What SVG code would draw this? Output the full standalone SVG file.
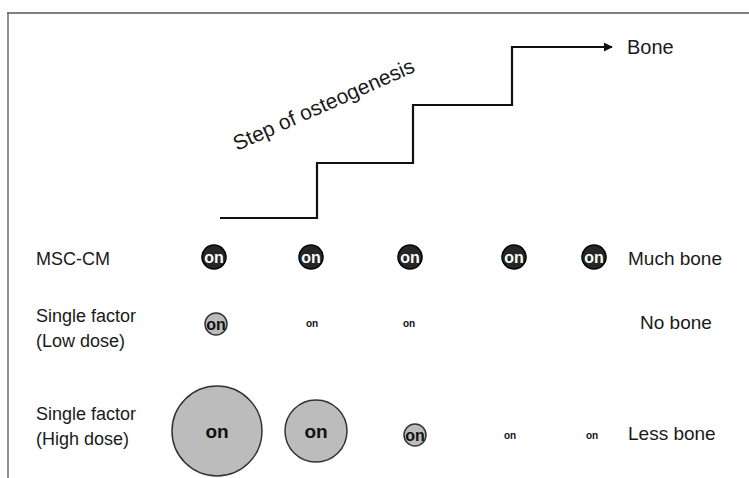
<svg xmlns="http://www.w3.org/2000/svg" width="749" height="478" viewBox="0 0 749 478">
  <style>
    .lbl { font-family: "Liberation Sans", Arial, sans-serif; font-size: 18px; fill: #1a1a1a; }
    .big { font-size: 20px; }
    .res { font-size: 19px; }
    .dark { fill: #262626; stroke: #000; stroke-width: 1.5; }
    .light { fill: #bcbcbc; stroke: #333; stroke-width: 1.5; }
    .onw { font-family: "Liberation Sans", Arial, sans-serif; font-weight: bold; fill: #fff; text-anchor: middle; }
    .onb { font-family: "Liberation Sans", Arial, sans-serif; font-weight: bold; fill: #111; text-anchor: middle; }
  </style>
  <defs>
    <marker id="arr" viewBox="0 0 10 10" refX="9" refY="5" markerWidth="9" markerHeight="9" markerUnits="userSpaceOnUse" orient="auto">
      <path d="M0,0 L10,5 L0,10 z" fill="#111"/>
    </marker>
  </defs>
  <rect width="749" height="478" fill="#fff"/>
  <g id="frame" stroke="#555" stroke-width="1.3" fill="none">
    <line x1="7" y1="13" x2="749" y2="13"/>
    <line x1="8" y1="13" x2="8" y2="478"/>
  </g>
  <g id="connectors">
    <path d="M220,218 H317 V163 H413 V105 H512 V47 H612" fill="none" stroke="#111" stroke-width="2.2" marker-end="url(#arr)"/>
  </g>
  <g id="step-label">
    <text class="lbl" style="font-size:21px" transform="translate(237,151) rotate(-24)">Step of osteogenesis</text>
  </g>
  <g id="bone-label"><text class="lbl big" x="627" y="54">Bone</text></g>

  <g id="row-msc">
    <text class="lbl" x="36" y="265">MSC-CM</text>
    <g id="msc1"><circle class="dark" cx="214" cy="257" r="12"/><text class="onw" x="214" y="263" font-size="16">on</text></g>
    <g id="msc2"><circle class="dark" cx="311" cy="257" r="12"/><text class="onw" x="311" y="263" font-size="16">on</text></g>
    <g id="msc3"><circle class="dark" cx="410" cy="257" r="12"/><text class="onw" x="410" y="263" font-size="16">on</text></g>
    <g id="msc4"><circle class="dark" cx="514" cy="257" r="12"/><text class="onw" x="514" y="263" font-size="16">on</text></g>
    <g id="msc5"><circle class="dark" cx="594" cy="257" r="12"/><text class="onw" x="594" y="263" font-size="16">on</text></g>
    <text class="lbl res" x="628" y="265">Much bone</text>
  </g>

  <g id="row-low">
    <text class="lbl" x="36" y="322">Single factor</text>
    <text class="lbl" x="36" y="347">(Low dose)</text>
    <g id="low1"><circle class="light" cx="216" cy="324" r="11"/><text class="onb" x="216" y="330" font-size="16">on</text></g>
    <g id="low2"><text class="onb" x="312" y="327" font-size="10">on</text></g>
    <g id="low3"><text class="onb" x="409" y="327" font-size="10">on</text></g>
    <text class="lbl res" x="640" y="329">No bone</text>
  </g>

  <g id="row-high">
    <text class="lbl" x="36" y="420">Single factor</text>
    <text class="lbl" x="36" y="445">(High dose)</text>
    <g id="high1"><circle class="light" cx="217" cy="431" r="45"/><text class="onb" x="217" y="438" font-size="19">on</text></g>
    <g id="high2"><circle class="light" cx="316" cy="431" r="31"/><text class="onb" x="316" y="438" font-size="19">on</text></g>
    <g id="high3"><circle class="light" cx="415" cy="435" r="11"/><text class="onb" x="415" y="441" font-size="16">on</text></g>
    <g id="high4"><text class="onb" x="510" y="439" font-size="10">on</text></g>
    <g id="high5"><text class="onb" x="592" y="439" font-size="10">on</text></g>
    <text class="lbl res" x="628" y="440">Less bone</text>
  </g>
</svg>
